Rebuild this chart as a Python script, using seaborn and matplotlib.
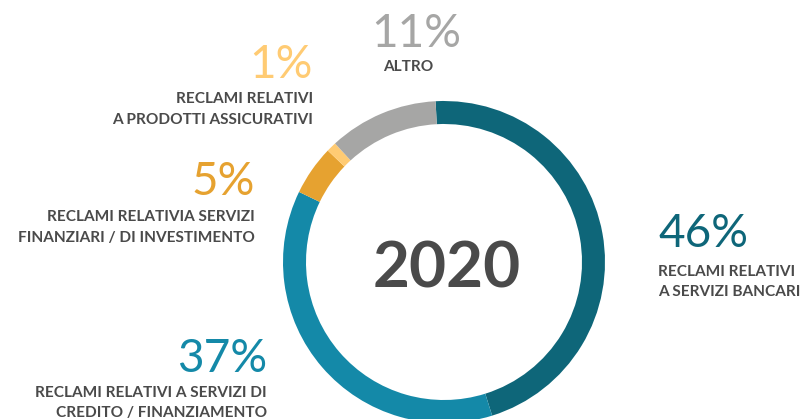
import matplotlib
matplotlib.use("Agg")
import matplotlib.pyplot as plt
import seaborn as sns

categories = ["Servizi bancari", "Credito / finanziamento", "Servizi finanziari / investimento",
              "Prodotti assicurativi", "Altro"]
values = [46, 37, 5, 1, 11]
pct_labels = ["46%", "37%", "5%", "1%", "11%"]
desc_labels = ["RECLAMI RELATIVI\nA SERVIZI BANCARI",
               "RECLAMI RELATIVI A SERVIZI DI\nCREDITO / FINANZIAMENTO",
               "RECLAMI RELATIVIA SERVIZI\nFINANZIARI / DI INVESTIMENTO",
               "RECLAMI RELATIVI\nA PRODOTTI ASSICURATIVI",
               "ALTRO"]
colors = ["#0E6679", "#1489A8", "#E6A230", "#FFCB73", "#A6A6A5"]
year = "2020"

sns.set_theme(style="white")
plt.rcParams['font.family'] = ['Lato', 'DejaVu Sans']

W, H = 804, 419
fig = plt.figure(figsize=(W / 100, H / 100), dpi=100)
ax = fig.add_axes([0, 0, 1, 1])

cx, cy, R = 444, H - 262, 161
ax.pie(values, colors=sns.color_palette(colors), startangle=93, counterclock=False,
       center=(cx, cy), radius=R, wedgeprops=dict(width=23, linewidth=0), frame=True)
ax.set_xlim(0, W)
ax.set_ylim(0, H)
ax.set_aspect('equal')
ax.axis('off')

text_col = "#4A4A4A"
ax.text(cx + 3, H - 288, year, fontsize=46, fontweight='bold', color=text_col,
        ha='center', va='baseline')

# (pct x, pct baseline, ha, desc baseline first line)
layout = [
    (658, 247, 'left', 276),
    (267, 372, 'right', 397),
    (255, 195, 'right', 221),
    (313, 78, 'right', 103),
    (416, 47, 'center', 71),
]
for (x, yb, ha, yd), p, d, c in zip(layout, pct_labels, desc_labels, colors):
    ax.text(x, H - yb, p, fontsize=33, fontweight='normal', color=c, ha=ha, va='baseline')
    lines = d.split("\n")
    dx = x if ha != 'center' else 408
    for i, ln in enumerate(lines):
        ax.text(dx, H - (yd + 20.5 * i), ln, fontsize=11.1, fontweight='bold',
                color=text_col, ha=ha, va='baseline')

fig.savefig("out.png", dpi=100)
